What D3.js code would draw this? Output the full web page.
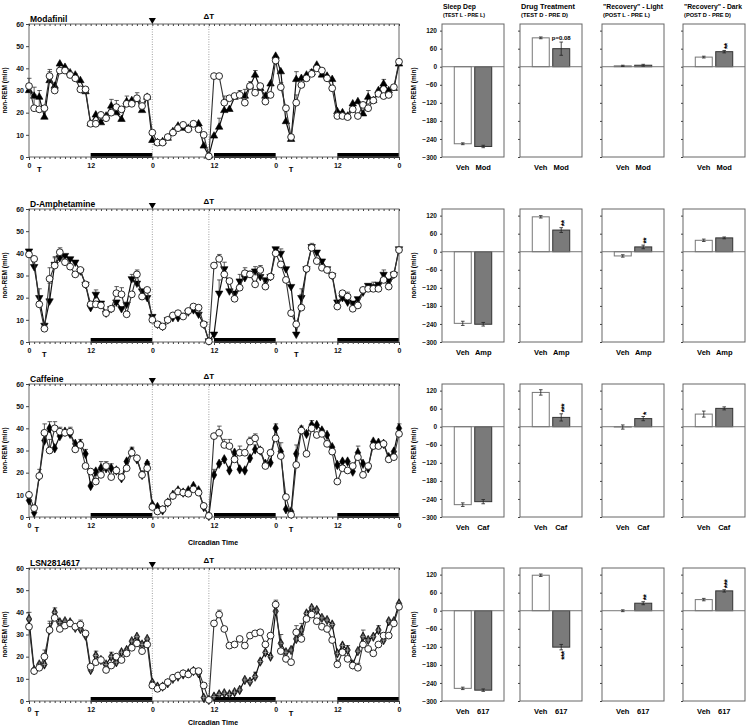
<!DOCTYPE html>
<html>
<head>
<meta charset="utf-8">
<script src="https://cdn.jsdelivr.net/npm/d3@7"></script>
<style>
  body { margin: 0; background: #fff; }
  svg { display: block; font-family: "Liberation Sans", Arial, sans-serif; font-weight: bold; }
</style>
</head>
<body>
<svg id="chart" width="746" height="728"></svg>
<script>
// ---- data ----
var hours = d3.range(0, 73);
var xTickHours = [0, 12, 24, 36, 48, 60, 72];
var xTickLabels = ["0", "12", "0", "12", "0", "12", "0"];
var yTicksLine = [0, 10, 20, 30, 40, 50, 60];
var yTicksBar = [120, 60, 0, -60, -120, -180, -240, -300];
var darkPeriods = [[12, 24], [36, 48], [60, 72]];
var sdMarks = [24, 35];   // ▼ start of sleep dep, ΔT
var barHeads = ["Sleep Dep", "Drug Treatment", "\"Recovery\" - Light", "\"Recovery\" - Dark"];
var barSubs = ["(TEST L - PRE L)", "(TEST D - PRE D)", "(POST L - PRE L)", "(POST D - PRE D)"];

// Modafinil
var modVeh = [32,22,21.5,22,36.5,30,39,39,37,35.5,30.5,30.5,
  15,15,19,17.5,20,22.5,21.5,24,24,26.5,23,27,
  11,6.5,6.5,9,11,13,14.5,12.5,15,12.5,10,0.3,
  36.5,36.5,24.5,26.5,27.5,28,24.5,32,29,32,25,28,
  43.5,31.5,22,9,24.5,32.5,35.5,37.5,40,39,35.5,31,
  18.5,18.5,18,21.5,18.5,23.5,22,25.5,28.5,27.5,28,31.5,43];
var modDrug = [30,27.5,27,18,34.5,32,42,40.5,38,37,34.5,29.5,
  15,19,15.5,18.5,23,20,17,25,25.5,26,21,27,
  7.5,6.5,7,8.5,11.5,14,13,13,14.5,15,5,0.5,
  9.5,13.5,21,21.5,27,28,27.5,32,37,31,27.5,33,
  45.5,38.5,16,8,35,35.5,37,38,41.5,37,36.5,35,
  20.5,20,18.5,24,25,19.5,27,25.5,30,33,30,31,42];
var modErrVeh = [[0,3.5],[1,6],[2,5],[4,3],[9,2],[17,3],[20,2],[21,2.5],[38,3],[41,2],[43,2],[49,2],[52,3.5],[53,2.5],[55,2],[66,2],[70,2]];
var modErrDrug = [[1,4],[2,3],[3,3],[4,4],[16,3],[19,2.5],[37,4],[38,4],[42,3],[44,2],[52,3.5],[66,3],[69,2]];
var modBars = [[-256, -265], [96, 60], [3, 5], [32, 50]];
var modBarErr = [[3, 4], [3, 22], [2, 3], [3, 4]];
var modSig = ["", "p=0.08", "", "**"];

// D-Amphetamine
var ampVeh = [39.5,37.5,17,6,28.5,34.5,40.5,36,34,30.5,32.5,26,
  17,17,16.5,13,15,22,21.5,12.5,21.5,30.5,20.5,23.5,
  10,8,7,10,12,13,11.5,14,16,15.5,8,0.3,
  34.5,37.5,30.5,27.5,19.5,24.5,31,30.5,26,32.5,25,29.5,
  40,35,28,13,8,15.5,33,42.5,36.5,33.5,32.5,30,
  16,22,20.5,15,16.5,23.5,24,24,24,28,25,30.5,41.5];
var ampDrug = [41,34,20,7.5,18.5,35,38,39,37.5,36,32,26,
  15.5,21.5,17.5,13,15,18,15,17,28.5,26.5,23,20,
  11.5,8,7,10,11,11,12,13.5,14.5,12.5,8,0.5,
  3.5,22,33,23,22,27.5,29,31,32,29.5,28,29.5,
  42,40,33,25,3.5,20,33,43,40.5,36.5,33,30,
  18,20,18,17.5,19.5,22.5,25.5,25,26,30.5,27.5,30.5,42];
var ampErrVeh = [[3,2],[4,5],[5,4],[6,2],[17,3],[18,3],[21,2],[37,2],[38,3],[41,3],[42,2.5],[45,2],[53,6],[55,2],[62,2],[66,2],[67,3]];
var ampErrDrug = [[2,4],[4,8],[5,3],[13,2],[20,2],[37,6],[38,3],[41,3],[44,2],[49,2],[53,4],[69,2]];
var ampBars = [[-238, -241], [116, 72], [-14, 16], [38, 46]];
var ampBarErr = [[7, 6], [4, 8], [4, 6], [4, 3]];
var ampSig = ["", "**", "**", ""];

// Caffeine
var cafVeh = [10,4,18.5,38,30,40,38.5,38,38.5,30.5,32.5,23,
  20.5,16,19,23,18,21,18,22,29,26.5,19,22,
  4.5,2.5,3.5,6.5,9.5,11.5,11,10.5,12.5,11,5,0.5,
  36.5,38,32.5,32,26,29,29,34,35.5,30,23,29,
  35.5,27.5,9,1,23.5,39,28.5,40,37,37.5,33,29.5,
  16,22,21,23,27,19,23,32,32,33,26,27,37.5];
var cafDrug = [7.5,2,18.5,34.5,40,31,36.5,38.5,37.5,33,33,28.5,
  14,20.5,22,22,22,21,17.5,25,29.5,26,19,24,
  5.5,4.5,3,6.5,10,12,11,12,14,12,4.5,0.5,
  19,24,26,21,29,21.5,21,26.5,30.5,30,24,24.5,
  40,29.5,3.5,2.5,28.5,39.5,37.5,41.5,41.5,39,37,31.5,
  23.5,25,25,20.5,29,24,22,34,33.5,33,27,29.5,40];
var cafErrVeh = [[2,3],[3,4],[4,5],[5,3],[6,2],[8,2],[13,3],[15,2],[20,2],[23,3],[37,3],[38,2.5],[39,3],[41,3],[43,2],[44,2],[52,4],[53,2],[64,2],[67,2]];
var cafErrDrug = [[3,4],[4,3],[10,2],[11,2],[14,3],[16,2],[20,2],[36,2.5],[44,2],[48,2],[49,4],[52,4],[55,2],[64,3],[72,2]];
var cafBars = [[-259, -249], [114, 31], [-1, 27], [42, 61]];
var cafBarErr = [[6, 7], [9, 12], [7, 7], [10, 5]];
var cafSig = ["", "***", "*", ""];

// LSN2814617
var lsnVeh = [33.5,13.5,15,20,32,37.5,32.5,34,35,33.5,34.5,30.5,
  15.5,17.5,18.5,14,16,20,18.5,21.5,24,26,22.5,25.5,
  7,5.5,6.5,8.5,10.5,11.5,12.5,12,13.5,13.5,7,0.5,
  35,39,32.5,25,25.5,28,25,29.5,30.5,31,25.5,29.5,
  43.5,22.5,19,17.5,31,28,37,39,36,33.5,32.5,27.5,
  16.5,22,19,16,15,25.5,23.5,21.5,25.5,29.5,29.5,35,42.5];
var lsnDrug = [37,14,16.5,16.5,32,40,35.5,36,35.5,33,32.5,29.5,
  14,20.5,18.5,16.5,20,17.5,22,23,27,29,25.5,28,
  8.3,6.5,6.5,8,10,11,12,12.5,13.5,12.5,1.5,0.5,
  2,3,3.5,3,4,5,9.5,8.7,11,17.8,21.9,20,
  40.5,26,22,23,28,32,39.5,42,41,37.5,36.5,34.5,
  21.5,25,23,16.5,22.5,29,27.5,29,32,27.5,36,36,44];
var lsnErrVeh = [[0,3],[3,3],[4,3],[10,2],[21,2],[37,2],[48,2],[49,4],[52,3],[53,2],[60,2],[64,2]];
var lsnErrDrug = [[0,3],[3,5],[4,4],[5,2],[13,2],[16,2],[44,2],[46,3],[49,4],[52,3],[53,3],[62,2],[65,3],[68,2]];
var lsnBars = [[-258, -264], [118, -121], [0, 25], [37, 66]];
var lsnBarErr = [[4, 4], [4, 9], [3, 5], [4, 4]];
var lsnSig = ["", "***", "**", "***"];

var treatHours = [[2, 51], [3, 52], [1.5, 51], [1.5, 51]];

var rows = [
  {name: "Modafinil", short: "Mod", veh: modVeh, drug: modDrug, errV: modErrVeh, errD: modErrDrug, sym: "up", bars: modBars, barErr: modBarErr, sig: modSig},
  {name: "D-Amphetamine", short: "Amp", veh: ampVeh, drug: ampDrug, errV: ampErrVeh, errD: ampErrDrug, sym: "down", bars: ampBars, barErr: ampBarErr, sig: ampSig},
  {name: "Caffeine", short: "Caf", veh: cafVeh, drug: cafDrug, errV: cafErrVeh, errD: cafErrDrug, sym: "diamond", bars: cafBars, barErr: cafBarErr, sig: cafSig},
  {name: "LSN2814617", short: "617", veh: lsnVeh, drug: lsnDrug, errV: lsnErrVeh, errD: lsnErrDrug, sym: "xdiamond", bars: lsnBars, barErr: lsnBarErr, sig: lsnSig}
];

// ---- layout ----
var svg = d3.select("#chart");
var rowTop = [24, 209, 384, 568];
var plotH = 133;
var lineLeft = 29, lineRight = 399;
var barLeft = [442, 520, 602, 683], barW = 62;
var headW = [33, 54, 60, 58];      // header widths as drawn in the figure
var subW = [42, 47, 47, 47];
var boxCol = "#666";

var x = d3.scaleLinear().domain([0, 72]).range([lineLeft, lineRight]);

function styleAxis(g, fs) {
  g.select(".domain").remove();
  g.selectAll("line").attr("stroke", "#444");
  g.selectAll("text").style("font-size", fs + "px").style("font-weight", "bold").attr("fill", "#111");
}

function drawLinePanel(r, ri) {
  var top = rowTop[ri];
  var bottom = top + plotH;
  var y = d3.scaleLinear().domain([0, 60]).range([bottom, top]);
  var g = svg.append("g");

  // dark phase bars
  g.selectAll("rect.dark").data(darkPeriods).enter().append("rect")
    .attr("x", function (d) { return x(d[0]); })
    .attr("width", function (d) { return x(d[1]) - x(d[0]); })
    .attr("y", bottom - 4).attr("height", 5)
    .attr("fill", "#000");

  // frame
  g.append("rect").attr("x", lineLeft).attr("y", top)
    .attr("width", lineRight - lineLeft).attr("height", plotH)
    .attr("fill", "none").attr("stroke", boxCol).attr("stroke-width", 1);

  // sleep dep markers
  g.selectAll("line.sd").data(sdMarks).enter().append("line")
    .attr("x1", function (d) { return x(d); }).attr("x2", function (d) { return x(d); })
    .attr("y1", top).attr("y2", bottom)
    .attr("stroke", "#888").attr("stroke-width", 0.8).attr("stroke-dasharray", "1,1.5");
  g.append("path")
    .attr("d", d3.symbol().type(d3.symbolTriangle).size(22)())
    .attr("transform", "translate(" + x(sdMarks[0]) + "," + (top - 4) + ") rotate(180)")
    .attr("fill", "#000");
  g.append("text").attr("x", x(sdMarks[1])).attr("y", top - 5)
    .attr("text-anchor", "middle").style("font-size", "8px").text("\u0394T");

  // title
  g.append("text").attr("x", lineLeft + 1).attr("y", top - 2)
    .style("font-size", "8.5px").text(r.name);

  // axes
  g.append("g").attr("transform", "translate(" + lineLeft + ",0)")
    .call(d3.axisLeft(y).tickValues(yTicksLine).tickSize(3).tickPadding(2))
    .call(styleAxis, 7);
  g.append("g").attr("transform", "translate(0," + bottom + ")")
    .call(d3.axisBottom(x).tickValues(hours).tickSize(2).tickFormat(""))
    .call(styleAxis, 7);
  g.append("g").attr("transform", "translate(0," + bottom + ")")
    .call(d3.axisBottom(x).tickValues(xTickHours).tickSize(3).tickPadding(3)
      .tickFormat(function (d, i) { return xTickLabels[i]; }))
    .call(styleAxis, 7);
  g.append("g").attr("transform", "translate(0," + top + ")")
    .call(d3.axisTop(x).tickValues(hours).tickSize(-2).tickFormat(""))
    .call(styleAxis, 7);

  g.selectAll("text.treat").data(treatHours[ri]).enter().append("text")
    .attr("x", function (d) { return x(d); }).attr("y", bottom + 15)
    .attr("text-anchor", "middle").style("font-size", "7.5px").text("T");

  g.append("text")
    .attr("transform", "translate(7," + (top + plotH / 2) + ") rotate(-90)")
    .attr("text-anchor", "middle").style("font-size", "6.5px").text("non-REM (min)");

  var line = d3.line().x(function (d, i) { return x(i); }).y(function (d) { return y(d); });

  // error caps (upward only)
  function errs(list, vals) {
    var eg = g.append("g").attr("stroke", "#333").attr("stroke-width", 0.8);
    eg.selectAll("line.v").data(list).enter().append("line")
      .attr("x1", function (d) { return x(d[0]); }).attr("x2", function (d) { return x(d[0]); })
      .attr("y1", function (d) { return y(vals[d[0]]); })
      .attr("y2", function (d) { return y(vals[d[0]] + d[1]); });
    eg.selectAll("line.c").data(list).enter().append("line")
      .attr("x1", function (d) { return x(d[0]) - 2; }).attr("x2", function (d) { return x(d[0]) + 2.5; })
      .attr("y1", function (d) { return y(vals[d[0]] + d[1]); })
      .attr("y2", function (d) { return y(vals[d[0]] + d[1]); });
  }
  errs(r.errD, r.drug);
  errs(r.errV, r.veh);

  // drug series
  g.append("path").datum(r.drug).attr("d", line)
    .attr("fill", "none").attr("stroke", "#111").attr("stroke-width", 1.2);
  var symType = (r.sym === "up" || r.sym === "down") ? d3.symbolTriangle : d3.symbolDiamond;
  var symSize = (r.sym === "up" || r.sym === "down") ? 24 : 26;
  var dm = g.selectAll("g.dm").data(r.drug).enter().append("g")
    .attr("transform", function (d, i) {
      return "translate(" + x(i) + "," + y(d) + ")" + (r.sym === "down" ? " rotate(180)" : "");
    });
  dm.append("path").attr("d", d3.symbol().type(symType).size(symSize)())
    .attr("fill", r.sym === "xdiamond" ? "#222" : "#000")
    .attr("stroke", "#000").attr("stroke-width", 0.6);
  if (r.sym === "xdiamond") {
    dm.append("path").attr("d", "M-2,0H2M0,-2.6V2.6")
      .attr("stroke", "#bbb").attr("stroke-width", 0.7);
  }

  // vehicle series
  g.append("path").datum(r.veh).attr("d", line)
    .attr("fill", "none").attr("stroke", "#333").attr("stroke-width", 1.1);
  g.selectAll("circle.veh").data(r.veh).enter().append("circle")
    .attr("cx", function (d, i) { return x(i); })
    .attr("cy", function (d) { return y(d); })
    .attr("r", 3.4).attr("fill", "#fff").attr("stroke", "#111").attr("stroke-width", 0.9);
}

function drawBarPanel(r, ri, p) {
  var top = rowTop[ri];
  var bottom = top + plotH;
  var left = barLeft[p];
  var y = d3.scaleLinear().domain([-300, 142]).range([bottom, top]);
  var xb = d3.scaleBand().domain(["Veh", r.short]).range([left, left + barW])
    .paddingInner(0.17).paddingOuter(0.6);
  var data = xb.domain().map(function (k, i) {
    return {k: k, v: r.bars[p][i], e: r.barErr[p][i], i: i};
  });
  var g = svg.append("g");

  g.append("rect").attr("x", left).attr("y", top).attr("width", barW).attr("height", plotH)
    .attr("fill", "none").attr("stroke", boxCol).attr("stroke-width", 1);

  var ax = d3.axisLeft(y).tickValues(yTicksBar).tickSize(2).tickPadding(3);
  if (p > 0) ax.tickFormat("");
  g.append("g").attr("transform", "translate(" + left + ",0)").call(ax).call(styleAxis, 6.5);

  g.selectAll("rect.bar").data(data).enter().append("rect")
    .attr("x", function (d) { return xb(d.k); })
    .attr("width", xb.bandwidth())
    .attr("y", function (d) { return y(Math.max(d.v, 0)); })
    .attr("height", function (d) { return Math.abs(y(d.v) - y(0)); })
    .attr("fill", function (d) { return d.i === 0 ? "#fff" : "#7a7a7a"; })
    .attr("stroke", function (d) { return d.i === 0 ? "#777" : "#333"; })
    .attr("stroke-width", 1);

  g.append("line").attr("x1", left).attr("x2", left + barW)
    .attr("y1", y(0)).attr("y2", y(0)).attr("stroke", "#777").attr("stroke-width", 1);

  var eg = g.append("g").attr("stroke", "#222").attr("stroke-width", 0.8);
  data.forEach(function (d) {
    var cx = xb(d.k) + xb.bandwidth() / 2;
    eg.append("line").attr("x1", cx).attr("x2", cx).attr("y1", y(d.v - d.e)).attr("y2", y(d.v + d.e));
    eg.append("line").attr("x1", cx - 1.8).attr("x2", cx + 1.8).attr("y1", y(d.v - d.e)).attr("y2", y(d.v - d.e));
    eg.append("line").attr("x1", cx - 1.8).attr("x2", cx + 1.8).attr("y1", y(d.v + d.e)).attr("y2", y(d.v + d.e));
  });

  g.selectAll("text.cat").data(data).enter().append("text")
    .attr("x", function (d) { return xb(d.k) + xb.bandwidth() / 2; })
    .attr("y", bottom + 13)
    .attr("text-anchor", "middle").style("font-size", "7.5px").text(function (d) { return d.k; });

  // significance: stars stacked vertically
  var s = r.sig[p];
  if (s) {
    var d = data[1];
    var cx = xb(d.k) + xb.bandwidth() / 2;
    if (s.charAt(0) === "p") {
      g.append("text").attr("x", cx).attr("y", y(d.v + d.e) - 2.5)
        .attr("text-anchor", "middle").style("font-size", "6px").text(s);
    } else {
      var up = d.v >= 0;
      var edge = up ? y(d.v + d.e) - 1.5 : y(d.v - d.e) + 1.5;
      g.append("text")
        .attr("transform", "translate(" + cx + "," + edge + ") rotate(-90)")
        .attr("text-anchor", up ? "start" : "end")
        .attr("dy", "0.62em")
        .style("font-size", "8.5px").style("letter-spacing", "-0.5px").text(s);
    }
  }

  if (ri === 0) {
    g.append("text").attr("x", left + 1).attr("y", 9).style("font-size", "7px")
      .attr("textLength", headW[p]).attr("lengthAdjust", "spacingAndGlyphs").text(barHeads[p]);
    g.append("text").attr("x", left + 1).attr("y", 17).style("font-size", "5px")
      .attr("textLength", subW[p]).attr("lengthAdjust", "spacingAndGlyphs").text(barSubs[p]);
  }
  if (p === 0) {
    g.append("text")
      .attr("transform", "translate(416," + (top + plotH / 2) + ") rotate(-90)")
      .attr("text-anchor", "middle").style("font-size", "6.5px").text("non-REM (min)");
  }
}

rows.forEach(function (r, ri) {
  drawLinePanel(r, ri);
  for (var p = 0; p < 4; p++) drawBarPanel(r, ri, p);
});

svg.append("text").attr("x", 213).attr("y", 545).attr("text-anchor", "middle")
  .style("font-size", "7px").text("Circadian Time");
svg.append("text").attr("x", 213).attr("y", 725).attr("text-anchor", "middle")
  .style("font-size", "7px").text("Circadian Time");
</script>
</body>
</html>
